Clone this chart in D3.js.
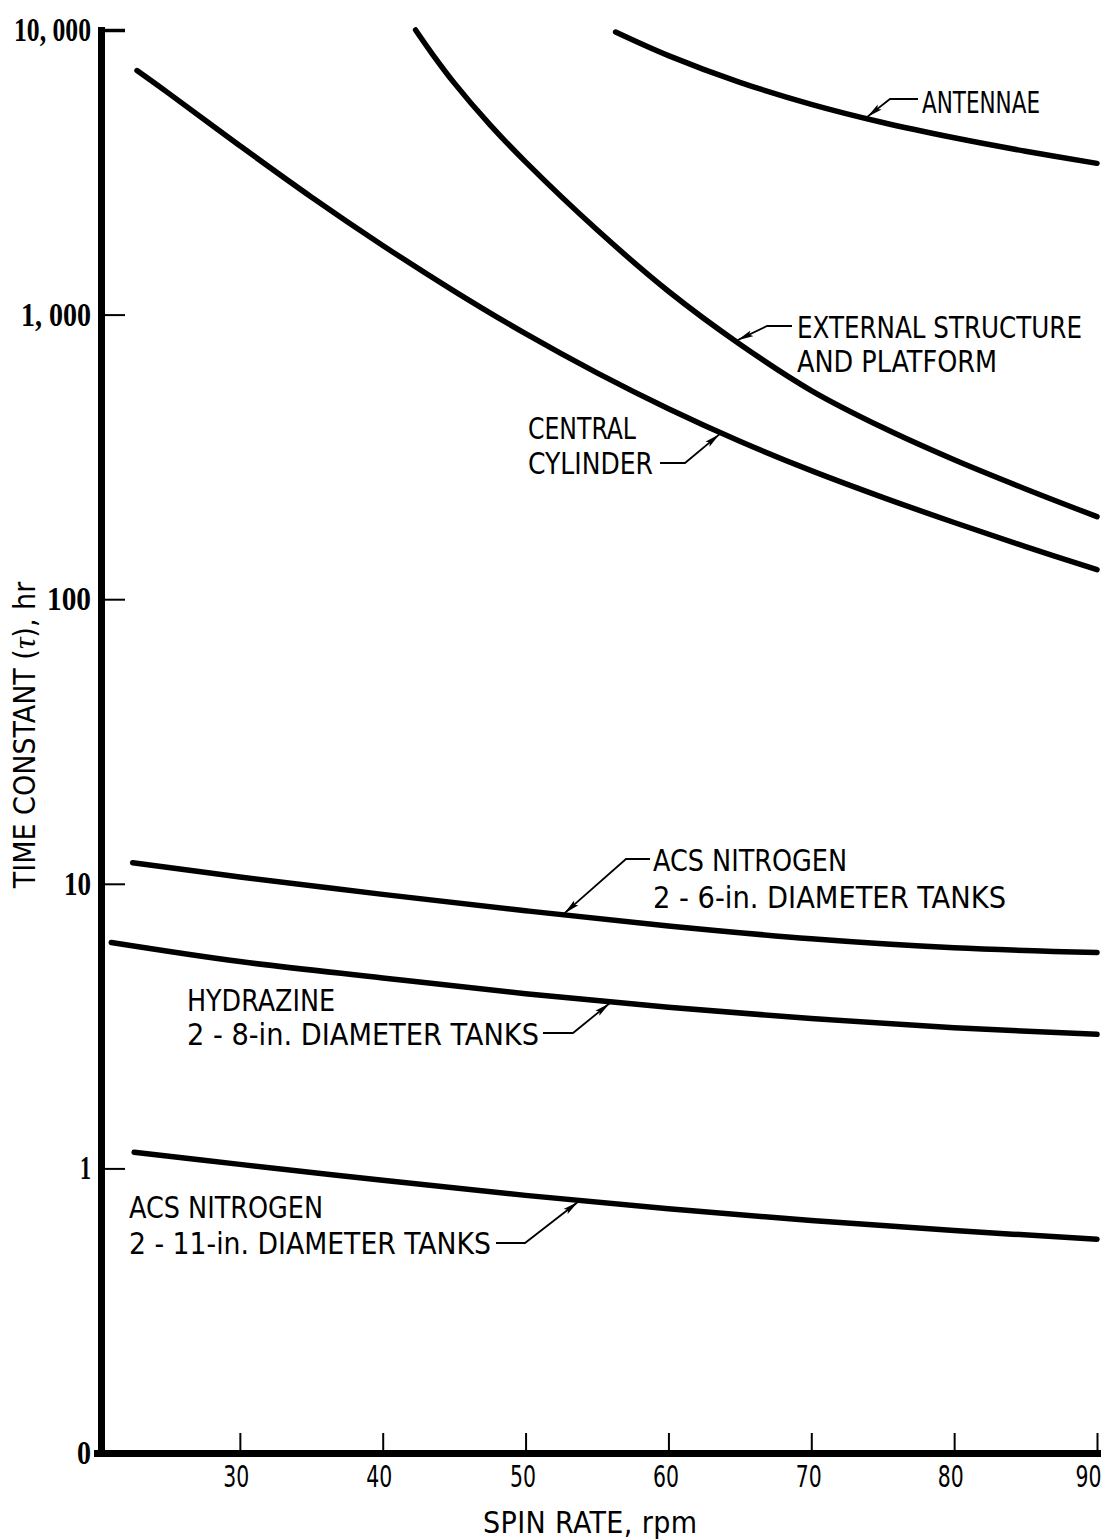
<!DOCTYPE html>
<html><head><meta charset="utf-8">
<script src="https://cdn.jsdelivr.net/npm/d3@7"></script>
<style>
html,body{margin:0;padding:0;background:#fff;}
svg{display:block;background:#fff;}
</style></head>
<body><svg id="chart" width="1117" height="1539"></svg>
<script>
// ---------------- DATA ----------------
const rpmAntennae = [56.3, 60, 65, 70, 75, 80, 85, 90];
const tauAntennae = [9840, 8130, 6550, 5480, 4730, 4180, 3750, 3400];

const rpmExternal = [42.3, 43.5, 45, 47.5, 50, 55, 60, 65, 70, 75, 80, 85, 90];
const tauExternal = [10000, 8200, 6520, 4650, 3440, 1986, 1208, 787, 541, 401, 309, 244, 195];

const rpmCentral = [22.8, 25, 30, 35, 40, 45, 50, 55, 60, 65, 70, 75, 80, 85, 90];
const tauCentral = [7200, 6000, 3920, 2590, 1750, 1210, 857, 624, 467, 359, 283, 228, 186, 153, 127];

const rpmAcs6 = [22.5, 30, 40, 50, 60, 70, 80, 90];
const tauAcs6 = [11.86, 10.57, 9.18, 8.04, 7.11, 6.41, 5.96, 5.74];

const rpmHydrazine = [21.0, 30, 40, 50, 60, 70, 80, 90];
const tauHydrazine = [6.22, 5.33, 4.67, 4.11, 3.68, 3.36, 3.12, 2.96];

const rpmAcs11 = [22.6, 30, 40, 50, 60, 70, 80, 90];
const tauAcs11 = [1.14, 1.033, 0.908, 0.804, 0.721, 0.656, 0.605, 0.564];

const xTickValues = [30, 40, 50, 60, 70, 80, 90];
const xTickLabels = ["30", "40", "50", "60", "70", "80", "90"];
const yTickValues = [0.1, 1, 10, 100, 1000, 10000];
const yTickLabels = ["0", "1", "10", "100", "1, 000", "10, 000"];

const xTitle = "SPIN RATE,  rpm";
const yTitleParts = ["TIME CONSTANT ", "(", "\u03C4", "),  hr"];

const annotationText = [
  ["ANTENNAE"],
  ["EXTERNAL STRUCTURE", "AND PLATFORM"],
  ["CENTRAL", "CYLINDER"],
  ["ACS NITROGEN", "2 - 6-in. DIAMETER TANKS"],
  ["HYDRAZINE", "2 - 8-in. DIAMETER TANKS"],
  ["ACS NITROGEN", "2 - 11-in. DIAMETER TANKS"]
];
// rpm at which each leader arrow touches its curve
const annotationRpm = [73.8, 64.7, 63.7, 52.6, 56.0, 53.8];

// ---------------- LAYOUT ----------------
const W = 1117, H = 1539;
const x = d3.scaleLinear().domain([20, 90]).range([97, 1097]);
const y = d3.scaleLog().domain([0.1, 10000]).range([1453, 30]);
const yAxisX = 101;

const labelFont = "'Liberation Sans Narrow','DejaVu Sans Condensed','Arial Narrow',sans-serif";
const serifFont = "'Liberation Serif','DejaVu Serif',serif";

const annotLayout = [
  {tx: 922, ty: 113, lh: 0,  hEnd: [918, 99],   knee: [890, 99],   w: [118]},
  {tx: 797, ty: 338, lh: 34, hEnd: [792, 326],  knee: [767, 326],  w: [285, 200]},
  {tx: 528, ty: 439, lh: 35, hEnd: [660, 463],  knee: [685, 463],  w: [108, 125]},
  {tx: 653, ty: 871, lh: 37, hEnd: [650, 859],  knee: [626, 859],  w: [194, 353]},
  {tx: 187, ty: 1011, lh: 34, hEnd: [543, 1033], knee: [573, 1033], w: [148, 352]},
  {tx: 129, ty: 1218, lh: 36, hEnd: [496, 1243], knee: [525, 1243], w: [194, 362]}
];
const yLabelWidths = [14, 11, 27, 44, 70, 77];
const xLabelShift = [-4, -4, -3, -3, -3, -4, -9];

const svg = d3.select("#chart");
svg.append("rect").attr("width", W).attr("height", H).attr("fill", "#fff");

const defs = svg.append("defs");
defs.append("marker")
  .attr("id", "arrow").attr("viewBox", "0 0 16 8")
  .attr("refX", 15.5).attr("refY", 4)
  .attr("markerWidth", 16).attr("markerHeight", 8)
  .attr("markerUnits", "userSpaceOnUse")
  .attr("orient", "auto")
  .append("path").attr("d", "M0,0.8 L16,4 L0,7.2 L3,4 Z").attr("fill", "#000");

// ---------------- AXES ----------------
const xAxis = d3.axisBottom(x)
  .tickValues(xTickValues)
  .tickFormat((d, i) => xTickLabels[i])
  .tickSizeInner(-20).tickSizeOuter(0).tickPadding(12);
const gx = svg.append("g").attr("transform", `translate(0,${y(0.1)})`).call(xAxis);
gx.select(".domain").attr("stroke", "#000").attr("stroke-width", 7).attr("stroke-linecap", "square");
gx.selectAll(".tick line").attr("stroke", "#000").attr("stroke-width", 2);
gx.selectAll(".tick text")
  .attr("x", (d, i) => xLabelShift[i])
  .attr("font-family", labelFont).attr("font-size", 31).attr("fill", "#000")
  .attr("textLength", 26).attr("lengthAdjust", "spacingAndGlyphs");

const yAxis = d3.axisLeft(y)
  .tickValues(yTickValues)
  .tickFormat((d, i) => yTickLabels[i])
  .tickSizeInner(-24).tickSizeOuter(0).tickPadding(10);
const gy = svg.append("g").attr("transform", `translate(${yAxisX},0)`).call(yAxis);
gy.select(".domain").attr("stroke", "#000").attr("stroke-width", 7).attr("stroke-linecap", "square");
gy.selectAll(".tick line").attr("stroke", "#000")
  .attr("stroke-width", d => d === 10000 ? 3.5 : 2);
gy.selectAll(".tick text")
  .attr("font-family", serifFont).attr("font-weight", "bold")
  .attr("font-size", 33).attr("fill", "#000")
  .attr("textLength", (d, i) => yLabelWidths[i]).attr("lengthAdjust", "spacingAndGlyphs");

// axis titles
svg.append("text")
  .attr("x", 590).attr("y", 1533)
  .attr("text-anchor", "middle")
  .attr("font-family", labelFont).attr("font-size", 30)
  .attr("textLength", 214).attr("lengthAdjust", "spacing")
  .text(xTitle);

const yt = svg.append("text")
  .attr("transform", "translate(35,735) rotate(-90)")
  .attr("text-anchor", "middle")
  .attr("font-family", labelFont).attr("font-size", 30);
yt.append("tspan").text(yTitleParts[0]);
yt.append("tspan").text(yTitleParts[1]);
yt.append("tspan").attr("font-family", serifFont).attr("font-style", "italic").attr("font-size", 32).text(yTitleParts[2]);
yt.append("tspan").text(yTitleParts[3]);

// ---------------- CURVES ----------------
const series = [
  [rpmAntennae, tauAntennae],
  [rpmExternal, tauExternal],
  [rpmCentral, tauCentral],
  [rpmAcs6, tauAcs6],
  [rpmHydrazine, tauHydrazine],
  [rpmAcs11, tauAcs11]
];

const line = d3.line()
  .x(d => x(d[0])).y(d => y(d[1]))
  .curve(d3.curveCatmullRom.alpha(0.5));

svg.append("g").selectAll("path")
  .data(series)
  .join("path")
  .attr("d", s => line(s[0].map((r, i) => [r, s[1][i]])))
  .attr("fill", "none").attr("stroke", "#000")
  .attr("stroke-width", 5.5).attr("stroke-linecap", "round").attr("stroke-linejoin", "round");

// ---------------- ANNOTATIONS ----------------
function valueAt(rpms, taus, r) {
  let i = d3.bisectRight(rpms, r) - 1;
  i = Math.max(0, Math.min(rpms.length - 2, i));
  const t = (r - rpms[i]) / (rpms[i + 1] - rpms[i]);
  const l0 = Math.log10(taus[i]), l1 = Math.log10(taus[i + 1]);
  return Math.pow(10, l0 + t * (l1 - l0));
}

const ga = svg.append("g");
annotationText.forEach((lines, k) => {
  const L = annotLayout[k];
  const s = series[k];
  const r = annotationRpm[k];
  const tip = [x(r), y(valueAt(s[0], s[1], r))];
  const dx = tip[0] - L.knee[0], dy = tip[1] - L.knee[1];
  const len = Math.hypot(dx, dy);
  const end = [tip[0] - dx / len * 2.5, tip[1] - dy / len * 2.5];
  ga.append("path")
    .attr("d", `M${L.hEnd[0]},${L.hEnd[1]}L${L.knee[0]},${L.knee[1]}L${end[0]},${end[1]}`)
    .attr("fill", "none").attr("stroke", "#000").attr("stroke-width", 1.8)
    .attr("marker-end", "url(#arrow)");
  lines.forEach((txt, j) => {
    ga.append("text")
      .attr("x", L.tx).attr("y", L.ty + j * L.lh)
      .attr("font-family", labelFont).attr("font-size", 30).attr("fill", "#000")
      .attr("textLength", L.w[j]).attr("lengthAdjust", "spacingAndGlyphs")
      .text(txt);
  });
});
</script>
</body></html>
